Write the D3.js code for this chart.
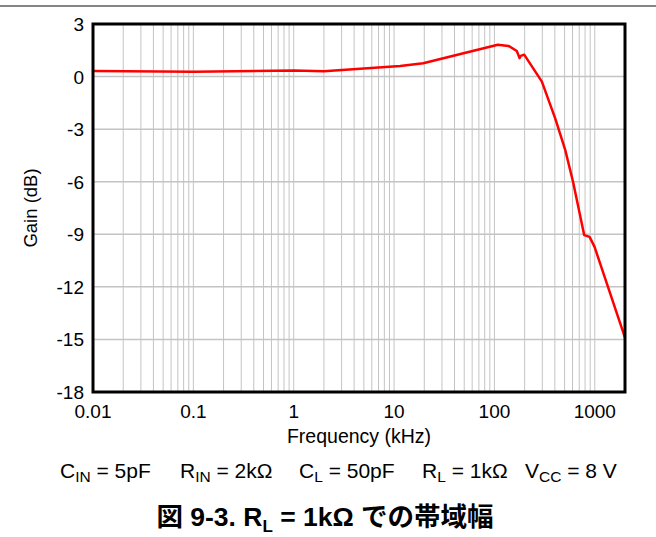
<!DOCTYPE html>
<html>
<head>
<meta charset="utf-8">
<script src="https://cdn.jsdelivr.net/npm/d3@7"></script>
<style>
  body { margin: 0; background: #fff; }
  text { font-family: "Liberation Sans", Arial, sans-serif; fill: #000; }
</style>
</head>
<body>
<div id="chart"></div>
<script>
// frequency (kHz) and gain (dB)
var freq = [0.01, 0.1, 1, 2, 11.5, 19.5, 108, 138, 167, 178, 183, 198, 297, 404, 508, 607, 785, 887, 995, 2000];
var gain = [0.32, 0.28, 0.35, 0.3, 0.6, 0.76, 1.82, 1.75, 1.46, 1.05, 1.18, 1.25, -0.29, -2.4, -4.2, -6.0, -9.05, -9.15, -9.72, -14.9];

var yTicks = [3, 0, -3, -6, -9, -12, -15, -18];
var xTicks = [0.01, 0.1, 1, 10, 100, 1000];

var condNames = ["C", "R", "C", "R", "V"];
var condSubs = ["IN", "IN", "L", "L", "CC"];
var condValues = [" = 5pF", " = 2k\u03A9", " = 50pF", " = 1k\u03A9", " = 8 V"];

var width = 656, height = 537;
// plot box
var pLeft = 93, pRight = 625, pTop = 24, pBottom = 392;

var svg = d3.select("#chart").append("svg")
    .attr("width", width)
    .attr("height", height);

// grey rule across the top of the page
svg.append("rect")
    .attr("x", 0).attr("y", 5)
    .attr("width", width).attr("height", 2)
    .attr("fill", "#858585");

var x = d3.scaleLog().domain([0.01, 2000]).range([pLeft, pRight]);
var y = d3.scaleLinear().domain([-18, 3]).range([pBottom, pTop]);

// vertical grid: 1..9 in every decade
var minor = [];
for (var e = -2; e <= 3; e++) {
    for (var m = 1; m <= 9; m++) {
        var v = m * Math.pow(10, e);
        if (v > 0.01 && v < 2000) minor.push(v);
    }
}
svg.append("g").selectAll("line")
    .data(minor)
    .enter().append("line")
    .attr("x1", function(d) { return x(d); })
    .attr("x2", function(d) { return x(d); })
    .attr("y1", pTop).attr("y2", pBottom)
    .attr("stroke", "#c4c4c4").attr("stroke-width", 1);

svg.append("g").selectAll("line")
    .data(yTicks.slice(1, -1))
    .enter().append("line")
    .attr("x1", pLeft).attr("x2", pRight)
    .attr("y1", function(d) { return y(d); })
    .attr("y2", function(d) { return y(d); })
    .attr("stroke", "#c4c4c4").attr("stroke-width", 1.5);

// curve
var line = d3.line()
    .x(function(d, i) { return x(freq[i]); })
    .y(function(d) { return y(d); });

svg.append("path")
    .datum(gain)
    .attr("d", line)
    .attr("fill", "none")
    .attr("stroke", "#ff0000")
    .attr("stroke-width", 2.5)
    .attr("stroke-linejoin", "round");

// frame
svg.append("rect")
    .attr("x", pLeft).attr("y", pTop)
    .attr("width", pRight - pLeft).attr("height", pBottom - pTop)
    .attr("fill", "none")
    .attr("stroke", "#000").attr("stroke-width", 3);

// tick labels
svg.append("g").selectAll("text")
    .data(yTicks)
    .enter().append("text")
    .attr("x", pLeft - 9)
    .attr("y", function(d) { return y(d) + 7; })
    .attr("text-anchor", "end")
    .attr("font-size", 19)
    .text(function(d) { return d; });

svg.append("g").selectAll("text")
    .data(xTicks)
    .enter().append("text")
    .attr("x", function(d) { return x(d); })
    .attr("y", pBottom + 26)
    .attr("text-anchor", "middle")
    .attr("font-size", 19)
    .text(function(d) { return d; });

// axis titles
svg.append("text")
    .attr("x", 359).attr("y", 443)
    .attr("text-anchor", "middle")
    .attr("font-size", 19.5)
    .text("Frequency (kHz)");

svg.append("text")
    .attr("transform", "translate(37," + ((pTop + pBottom) / 2) + ") rotate(-90)")
    .attr("text-anchor", "middle")
    .attr("font-size", 18.5)
    .text("Gain (dB)");

// test conditions, one group per component
var condX = [60, 180, 299, 422, 525];
condNames.forEach(function(name, i) {
    var t = svg.append("text")
        .attr("x", condX[i]).attr("y", 478)
        .attr("font-size", 21);
    t.append("tspan").text(name);
    t.append("tspan").attr("font-size", 15.5).attr("dy", 4).text(condSubs[i]);
    t.append("tspan").attr("dy", -4).text(condValues[i]);
});

// caption
var cap = svg.append("text")
    .attr("x", 325).attr("y", 526)
    .attr("text-anchor", "middle")
    .attr("font-size", 26.5)
    .attr("font-weight", "bold")
    .style("font-family", "'Liberation Sans', 'Noto Sans CJK JP', sans-serif");
cap.append("tspan").text("\u56F3 9-3. R");
cap.append("tspan").attr("font-size", 17).attr("dy", 6).text("L");
cap.append("tspan").attr("dy", -6).text(" = 1k\u03A9 \u3067\u306E\u5E2F\u57DF\u5E45");
</script>
</body>
</html>
